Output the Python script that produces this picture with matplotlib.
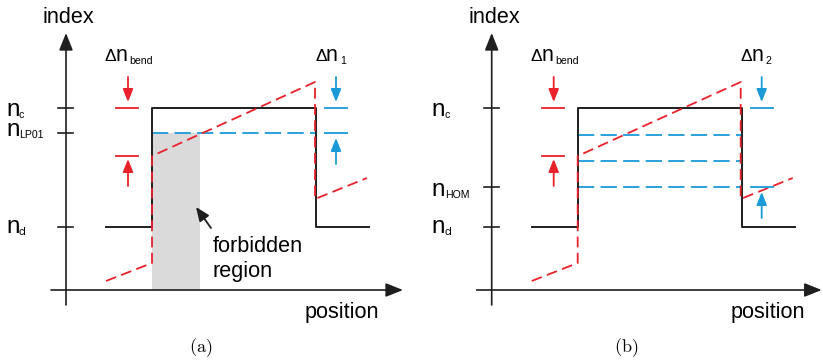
import matplotlib
matplotlib.use("Agg")
import matplotlib.pyplot as plt

plt.rcParams['font.family'] = ['Liberation Sans', 'DejaVu Sans']
plt.rcParams['mathtext.fontset'] = 'cm'

RED = '#e8212b'
BLUE = '#1b9ad8'
BLACK = '#1e1e1e'

# index levels (arbitrary units)
n_c = 18.2
n_lp01 = 15.7
n_hom = 10.3
n_cl = 6.3
modes_a = [15.7]
modes_b = [15.5, 12.9, 10.3]

# step profile
profile_x = [4.0, 8.6, 8.6, 25.0, 25.0, 30.3]
profile_y = [n_cl, n_cl, n_c, n_c, n_cl, n_cl]

# tilted (bent) profile
bent_x = [4.0, 8.6, 8.6, 24.9, 24.9, 30.1]
bent_y = [0.9, 2.7, 13.4, 20.8, 9.1, 11.2]

core_left = 8.6
core_right = 25.0
forbidden_edge = 13.4


def arrow(ax, start, end, color, lw=1.3, hl=0.55, hw=0.22, ms=14):
    ax.annotate('', xy=end, xytext=start,
                arrowprops=dict(arrowstyle='-|>,head_length=%g,head_width=%g' % (hl, hw),
                                color=color, lw=lw, shrinkA=0, shrinkB=0,
                                mutation_scale=ms))


def delta_label(ax, x, sub):
    ax.text(x, 22.9, 'Δ', fontsize=12.5, va='baseline')
    ax.text(x + 1.1, 22.9, 'n', fontsize=15.5, va='baseline')
    ax.text(x + 2.5, 22.6, sub, fontsize=7.6, va='baseline')


def draw_panel(ax, tick_levels, tick_names, label_base, modes, right_sub, right_low, x_end, tag):
    ax.set_axis_off()
    # axes with arrows
    arrow(ax, (0, -1.5), (0, 25.7), BLACK, lw=1.2, hl=0.75, hw=0.3)
    arrow(ax, (-1.5, 0), (x_end, 0), BLACK, lw=1.2, hl=0.75, hw=0.3)
    for lev, name, base in zip(tick_levels, tick_names, label_base):
        ax.plot([-0.8, 0.7], [lev, lev], color=BLACK, lw=1.2)
        ax.text(-6.0, base, 'n', fontsize=17.5, va='baseline')
        ax.text(-4.7, base - 0.2, name, fontsize=7.6, va='baseline')
    ax.text(-2.3, 26.7, 'index', fontsize=15.6, va='baseline')
    ax.text(23.9, -2.8, 'position', fontsize=15.6, va='baseline')
    ax.text(13.45, -5.8, r'$\mathrm{(%s)}$' % tag, fontsize=13, ha='center', va='center')

    # modes
    for m in modes:
        ax.plot([core_left, core_right], [m, m], color=BLUE, lw=1.3,
                linestyle=(0, (9, 3.5)))
    # profiles
    ax.plot(profile_x, profile_y, color=BLACK, lw=1.4)
    ax.plot(bent_x, bent_y, color=RED, lw=1.3, linestyle=(0, (6, 3)))

    # delta n bend markers
    delta_label(ax, 3.85, 'bend')
    ax.plot([5.0, 7.2], [n_c, n_c], color=RED, lw=1.3)
    ax.plot([5.0, 7.2], [bent_y[2], bent_y[2]], color=RED, lw=1.3)
    arrow(ax, (6.2, 21.3), (6.2, 18.8), RED)
    arrow(ax, (6.2, 10.4), (6.2, 13.1), RED)

    # delta n right markers
    delta_label(ax, 24.9, right_sub)
    ax.plot([25.9, 28.1], [n_c, n_c], color=BLUE, lw=1.3)
    ax.plot([25.9, 28.1], [right_low, right_low], color=BLUE, lw=1.3)
    arrow(ax, (27.0, 21.3), (27.0, 18.8), BLUE)
    arrow(ax, (27.0, right_low - 3.1), (27.0, right_low - 0.5), BLUE)


fig = plt.figure(figsize=(8.23, 3.63), dpi=100)
axa = fig.add_axes([0, 0, 411 / 823, 1])
axa.set_xlim(-6.6, -6.6 + 41.1)
axa.set_ylim(-7.3, 29.0)
axb = fig.add_axes([411 / 823, 0, 412 / 823, 1])
axb.set_xlim(-8.07, -8.07 + 41.2)
axb.set_ylim(-7.3, 29.0)

# forbidden region (panel a)
axa.fill_between([core_left, forbidden_edge], 0, n_lp01, color='#dadada', lw=0)
draw_panel(axa, [n_c, n_lp01, n_cl], ['c', 'LP01', 'cl'], [17.4, 15.4, 5.7],
           modes_a, '1', n_lp01, 33.7, 'a')
arrow(axa, (14.5, 6.2), (13.0, 8.3), BLACK, hl=0.6, hw=0.25)
axa.text(14.7, 3.8, 'forbidden', fontsize=15.6, va='baseline')
axa.text(14.7, 1.3, 'region', fontsize=15.6, va='baseline')

draw_panel(axb, [n_c, n_hom, n_cl], ['c', 'HOM', 'cl'], [17.4, 9.4, 5.7],
           modes_b, '2', modes_b[2], 33.0, 'b')

fig.savefig('out.png', dpi=100)
